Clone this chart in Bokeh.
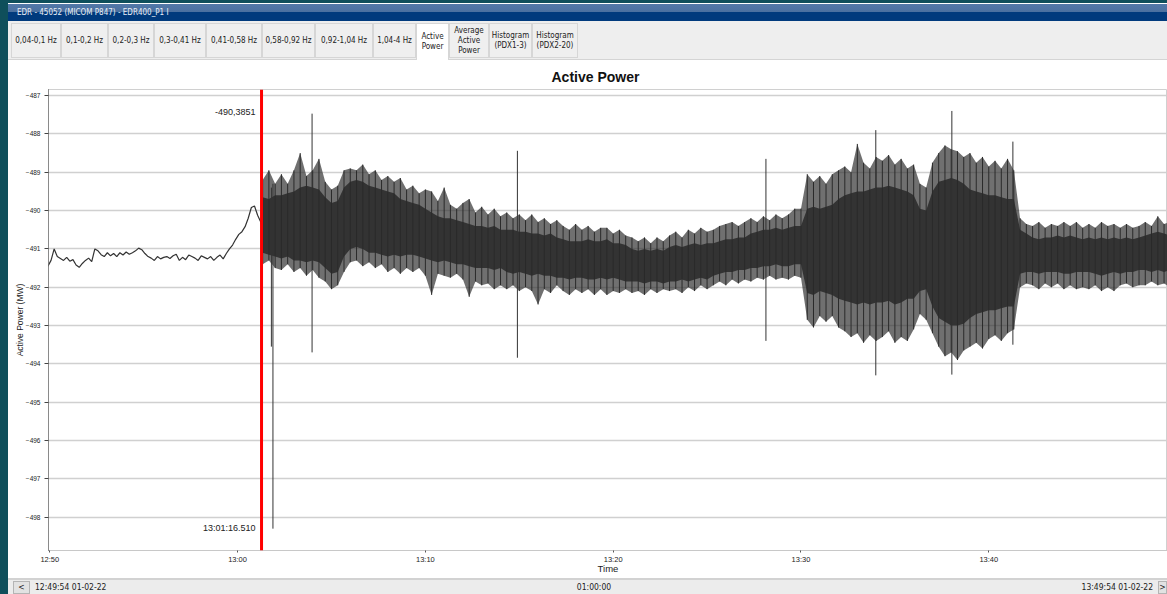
import pandas as pd
from bokeh.plotting import figure
from bokeh.models import (Range1d, FixedTicker, DatetimeTickFormatter, Span, Label,
                          Div, ColumnDataSource)
from bokeh.layouts import column, row
from bokeh.embed import file_html
from bokeh.resources import INLINE

# ---------------- data ----------------
DATE = "2022-02-01"
window_title = "EDR - 45052 (MICOM P847) - EDR400_P1 I"
tab_labels = ["0,04-0,1 Hz", "0,1-0,2 Hz", "0,2-0,3 Hz", "0,3-0,41 Hz", "0,41-0,58 Hz",
              "0,58-0,92 Hz", "0,92-1,04 Hz", "1,04-4 Hz", "Active\nPower",
              "Average\nActive\nPower", "Histogram\n(PDX1-3)", "Histogram\n(PDX2-20)"]
active_tab = "Active\nPower"
chart_title = "Active Power"
x_label = "Time"
y_label = "Active Power (MW)"
x_tick_labels = ["12:50", "13:00", "13:10", "13:20", "13:30", "13:40"]
y_ticks = [-498, -497, -496, -495, -494, -493, -492, -491, -490, -489, -488, -487]
record_start = "12:49:54 01-02-22"
record_end = "13:49:54 01-02-22"
record_span = "01:00:00"

# slow trace before the event, one reading every 10 s
pre_start = "12:49:54"
pre_step = "10s"
pre_power = [
    -491.45, -491.3, -491.0, -491.2, -491.25, -491.3, -491.22, -491.32, -491.28, -491.42,
    -491.48, -491.38, -491.3, -491.24, -491.33, -491.0, -491.05, -491.15, -491.2, -491.1,
    -491.18, -491.12, -491.2, -491.1, -491.16, -491.08, -491.14, -491.1, -491.05, -490.98,
    -491.02, -491.12, -491.2, -491.24, -491.3, -491.2, -491.26, -491.22, -491.2, -491.25,
    -491.18, -491.14, -491.3, -491.22, -491.28, -491.16, -491.2, -491.24, -491.3, -491.18,
    -491.22, -491.26, -491.2, -491.3, -491.22, -491.16, -491.26, -491.12, -491.0, -490.9,
    -490.75, -490.62, -490.55, -490.42, -490.2, -489.92, -489.88, -490.12, -490.3]

# cursor
marker_time = "13:01:16.510"
marker_value = -490.3851

# oscillating part after the event, envelope every 20 s
band_start = "13:01:20"
band_step = "20s"
core_top = [
    -489.65, -489.7, -489.6, -489.6, -489.55, -489.5, -489.4, -489.35, -489.4,
    -489.45, -489.65, -489.8, -489.75, -489.4, -489.25, -489.2, -489.25, -489.35,
    -489.4, -489.45, -489.5, -489.55, -489.7, -489.75, -489.8, -489.85, -489.95,
    -490.05, -490.15, -490.2, -490.2, -490.25, -490.3, -490.35, -490.4, -490.4,
    -490.45, -490.4, -490.5, -490.5, -490.5, -490.55, -490.55, -490.6, -490.6,
    -490.65, -490.6, -490.7, -490.75, -490.8, -490.8, -490.8, -490.75, -490.8,
    -490.8, -490.75, -490.85, -490.85, -490.9, -491.0, -491.05, -491.0, -491.05,
    -491.0, -491.05, -490.95, -490.9, -490.95, -490.9, -490.85, -490.9, -490.85,
    -490.85, -490.8, -490.75, -490.75, -490.7, -490.7, -490.6, -490.55, -490.5,
    -490.5, -490.45, -490.5, -490.45, -490.4, -490.4, -489.95, -489.9, -489.95,
    -489.9, -489.85, -489.7, -489.6, -489.55, -489.5, -489.5, -489.45, -489.4,
    -489.4, -489.35, -489.4, -489.45, -489.5, -489.6, -489.95, -490.0, -489.5,
    -489.25, -489.2, -489.15, -489.2, -489.3, -489.45, -489.5, -489.55, -489.6,
    -489.6, -489.65, -489.7, -489.7, -490.5, -490.6, -490.7, -490.75, -490.7,
    -490.7, -490.65, -490.7, -490.65, -490.7, -490.75, -490.7, -490.75, -490.7,
    -490.75, -490.7, -490.75, -490.7, -490.75, -490.7, -490.65, -490.6, -490.55,
    -490.6, -490.65]
core_bottom = [
    -491.1, -491.15, -491.2, -491.25, -491.2, -491.3, -491.3, -491.35, -491.3,
    -491.35, -491.5, -491.65, -491.6, -491.2, -491.0, -490.95, -491.0, -491.1,
    -491.1, -491.15, -491.2, -491.15, -491.2, -491.15, -491.15, -491.2, -491.25,
    -491.3, -491.35, -491.3, -491.35, -491.4, -491.4, -491.45, -491.5, -491.5,
    -491.5, -491.55, -491.5, -491.6, -491.65, -491.6, -491.65, -491.7, -491.65,
    -491.7, -491.7, -491.75, -491.75, -491.8, -491.75, -491.75, -491.8, -491.8,
    -491.75, -491.8, -491.75, -491.8, -491.85, -491.85, -491.85, -491.9, -491.85,
    -491.85, -491.9, -491.85, -491.85, -491.8, -491.85, -491.8, -491.75, -491.8,
    -491.7, -491.65, -491.6, -491.6, -491.55, -491.55, -491.5, -491.5, -491.45,
    -491.45, -491.4, -491.45, -491.45, -491.4, -491.4, -492.15, -492.2, -492.1,
    -492.15, -492.2, -492.3, -492.35, -492.4, -492.45, -492.4, -492.45, -492.4,
    -492.4, -492.35, -492.45, -492.4, -492.3, -492.3, -492.1, -492.05, -492.5,
    -492.8, -492.9, -493.0, -493.0, -492.95, -492.8, -492.7, -492.65, -492.6,
    -492.6, -492.55, -492.5, -492.5, -491.65, -491.6, -491.6, -491.65, -491.6,
    -491.6, -491.6, -491.65, -491.65, -491.6, -491.6, -491.6, -491.65, -491.7,
    -491.65, -491.6, -491.65, -491.6, -491.6, -491.55, -491.55, -491.6, -491.55,
    -491.6, -491.55]
peak_top = [
    -489.2, -488.95, -489.3, -489.05, -489.3, -488.95, -488.5, -489.1, -488.95,
    -488.65, -489.25, -489.45, -489.35, -488.95, -488.9, -488.95, -488.8, -489.05,
    -488.95, -489.2, -489.1, -489.25, -489.15, -489.45, -489.35, -489.55, -489.45,
    -489.5, -489.75, -489.4, -489.85, -489.95, -489.8, -489.7, -490.05, -489.9,
    -490.1, -489.95, -490.15, -490.05, -490.2, -490.1, -490.25, -490.1, -490.3,
    -490.2, -490.35, -490.25, -490.4, -490.5, -490.35, -490.5, -490.4, -490.55,
    -490.45, -490.45, -490.6, -490.5, -490.65, -490.7, -490.8, -490.7, -490.85,
    -490.7, -490.8, -490.65, -490.55, -490.7, -490.5, -490.6, -490.45, -490.55,
    -490.5, -490.4, -490.35, -490.3, -490.4, -490.3, -490.2, -490.3, -490.15,
    -490.25, -490.1, -490.2, -490.1, -489.95, -489.95, -489.05, -489.25, -489.1,
    -489.3, -489.05, -488.95, -488.85, -489.0, -488.26, -488.75, -488.9, -488.6,
    -488.7, -488.55, -488.8, -488.65, -488.9, -488.8, -489.3, -489.4, -488.75,
    -488.5, -488.3, -488.4, -488.45, -488.6, -488.5, -488.75, -488.6, -488.85,
    -488.7, -488.9, -488.65, -488.95, -490.2, -490.35, -490.4, -490.3, -490.45,
    -490.35, -490.4, -490.3, -490.4, -490.3, -490.45, -490.35, -490.45, -490.3,
    -490.4, -490.35, -490.45, -490.35, -490.45, -490.4, -490.3, -490.4, -490.15,
    -490.35, -490.3]
peak_bottom = [
    -491.4, -491.3, -491.5, -491.55, -491.4, -491.6, -491.5, -491.7, -491.55,
    -491.75, -491.85, -492.05, -491.95, -491.6, -491.35, -491.3, -491.45, -491.35,
    -491.5, -491.4, -491.6, -491.5, -491.65, -491.5, -491.6, -491.5, -491.7,
    -492.2, -491.65, -491.7, -491.75, -491.65, -491.8, -492.25, -491.85, -491.95,
    -491.9, -492.05, -491.95, -492.05, -491.95, -492.1, -492.0, -492.1, -492.45,
    -492.05, -492.15, -491.95, -492.1, -492.2, -492.05, -492.15, -492.05, -492.2,
    -492.05, -492.2, -492.1, -492.15, -492.05, -492.15, -492.1, -492.2, -492.05,
    -492.15, -492.05, -492.1, -492.05, -492.15, -492.0, -492.1, -491.95, -492.05,
    -491.95, -491.85, -491.95, -491.8, -491.9, -491.8, -491.85, -491.75, -491.8,
    -491.7, -491.8, -491.75, -491.8, -491.7, -491.75, -492.85, -493.05, -492.75,
    -492.9, -492.75, -493.05, -493.15, -493.3, -493.2, -493.45, -493.25, -493.4,
    -493.3, -493.15, -493.45, -493.3, -493.4, -493.1, -492.7, -492.85, -493.2,
    -493.55, -493.8, -493.7, -493.9, -493.65, -493.55, -493.45, -493.6, -493.35,
    -493.25, -493.4, -493.2, -493.1, -492.0, -491.9, -491.95, -492.05, -491.9,
    -492.0, -491.9, -492.05, -491.95, -492.05, -492.0, -492.05, -491.95, -492.1,
    -492.0, -492.1, -491.95, -491.9, -492.0, -491.95, -491.95, -491.85, -491.95,
    -491.9, -492.0]

# isolated long spikes
spike_times = ["13:01:48", "13:01:53", "13:03:58", "13:14:54", "13:28:08",
               "13:33:59", "13:38:02", "13:41:17"]
spike_top = [-489.4, -489.3, -487.47, -488.44, -488.65, -487.9, -487.4, -488.2]
spike_bottom = [-493.55, -498.3, -493.7, -493.84, -493.4, -494.3, -494.28, -493.5]

assert len(core_top) == len(core_bottom) == len(peak_top) == len(peak_bottom)


# ---------------- helpers ----------------
def ms(ts):
    return pd.Timestamp(ts).value / 1e6


def at(hms):
    return pd.Timestamp(f"{DATE} {hms}")


pre_t = list(pd.date_range(at(pre_start), periods=len(pre_power), freq=pre_step)) + [at(marker_time)]
pre_src = ColumnDataSource(dict(t=pre_t, y=pre_power + [marker_value]))

band_t = pd.date_range(at(band_start), periods=len(core_top), freq=band_step)
band_src = ColumnDataSource(dict(t=band_t, ct=core_top, cb=core_bottom, pt=peak_top, pb=peak_bottom))

spike_src = ColumnDataSource(dict(t=[at(s) for s in spike_times], top=spike_top, bot=spike_bottom))

FONT = "Liberation Sans"
INK = "#333333"
TEAL = "#0f4f5b"

# ---------------- figure ----------------
p = figure(width=1159, height=518, x_axis_type="datetime",
           x_range=Range1d(ms(at("12:49:55.9")), ms(at("13:49:31"))),
           y_range=Range1d(-498.87, -486.84),
           output_backend="svg", toolbar_location=None,
           min_border_left=40, min_border_right=0, min_border_top=29, min_border_bottom=28,
           background_fill_color="white", border_fill_color="white",
           outline_line_color="#d0d0d0", title=chart_title, margin=0)

p.title.text_font = FONT
p.title.text_font_size = "14px"
p.title.text_font_style = "bold"
p.title.text_color = "#111111"
p.title.align = "left"
p.title.offset = 503
p.title.standoff = 10

# axes
p.xaxis.ticker = FixedTicker(ticks=[ms(at(t)) for t in x_tick_labels])
p.xaxis.formatter = DatetimeTickFormatter(minutes="%H:%M", hourmin="%H:%M", hours="%H:%M",
                                          minsec="%H:%M", seconds="%H:%M")
p.xaxis.axis_label = x_label
p.xaxis.axis_label_text_font = FONT
p.xaxis.axis_label_text_font_size = "9.5px"
p.xaxis.axis_label_text_font_style = "normal"
p.xaxis.axis_label_text_color = "#222222"
p.xaxis.axis_label_standoff = -4
p.xaxis.axis_line_color = "#c8c8c8"
p.xaxis.major_tick_in = 0
p.xaxis.major_tick_out = 2
p.xaxis.major_tick_line_color = "#555555"
p.xaxis.minor_tick_line_color = None
p.xaxis.major_label_standoff = 2
p.xaxis.major_label_text_font = FONT
p.xaxis.major_label_text_font_size = "7.5px"
p.xaxis.major_label_text_color = "#222222"

p.yaxis.ticker = FixedTicker(ticks=y_ticks)
p.yaxis.axis_label = y_label
p.yaxis.axis_label_text_font = FONT
p.yaxis.axis_label_text_font_size = "8.5px"
p.yaxis.axis_label_text_font_style = "normal"
p.yaxis.axis_label_text_color = "#222222"
p.yaxis.axis_label_standoff = -2
p.yaxis.axis_line_color = "#444444"
p.yaxis.axis_line_dash = "1 1"
p.yaxis.major_tick_in = 0
p.yaxis.major_tick_out = 4
p.yaxis.major_tick_line_color = "#444444"
p.yaxis.minor_tick_line_color = None
p.yaxis.major_label_standoff = 4
p.yaxis.major_label_text_font = FONT
p.yaxis.major_label_text_font_size = "6.5px"
p.yaxis.major_label_text_color = "#222222"

p.xgrid.grid_line_color = None
p.ygrid.grid_line_color = "#d0d0d0"
p.ygrid.grid_line_width = 1.5

# signal: fuzzy fringe, dense core, individual excursions
p.varea(x="t", y1="pb", y2="pt", source=band_src, fill_color=INK, fill_alpha=0.7)
p.varea(x="t", y1="cb", y2="ct", source=band_src, fill_color=INK)
p.segment(x0="t", y0="pb", x1="t", y1="pt", source=band_src, line_color="#2a2a2a", line_width=1)
p.line(x="t", y="y", source=pre_src, line_color=INK, line_width=1.2)
p.segment(x0="t", y0="bot", x1="t", y1="top", source=spike_src, line_color=INK, line_width=1)

# cursor
p.add_layout(Span(location=ms(at(marker_time)), dimension="height", line_color="#ff0000", line_width=3))
p.add_layout(Label(x=ms(at(marker_time)), y=-487.44, x_offset=-6,
                   text=f"{marker_value:.4f}".replace(".", ","), text_align="right",
                   text_baseline="middle", text_font=FONT, text_font_size="9px", text_color="#222222"))
p.add_layout(Label(x=ms(at(marker_time)), y=-498.27, x_offset=-6,
                   text=marker_time, text_align="right",
                   text_baseline="middle", text_font=FONT, text_font_size="9px", text_color="#222222"))

# ---------------- window chrome ----------------
UI = "'DejaVu Sans Condensed','Liberation Sans Narrow','Liberation Sans',sans-serif"

title_html = (
    f'<div style="width:1159px;height:21px;box-sizing:border-box;padding-left:9px;padding-top:8px;'
    f'background:linear-gradient({TEAL} 0px,{TEAL} 3px,#ffffff 3px,#ffffff 4px,#5278a8 4px,'
    f'#4a70a0 12px,#003a7d 12px,#003a7d 21px);'
    f'color:#e8eef6;font-family:{UI};font-size:8px;line-height:10px;white-space:nowrap;">'
    f'{window_title}</div>')

tab_widths = [50, 47, 46, 52, 56, 53, 58, 43, 33, 40, 43, 46]
tabs = []
left = 3
for lbl, w in zip(tab_labels, tab_widths):
    sel = lbl == active_tab
    bg = "#ffffff" if sel else "#efefef"
    h = 37 if sel else 35
    bb = "none" if sel else "1px solid #d6d6d6"
    tabs.append(
        f'<div style="position:absolute;left:{left}px;top:2px;width:{w}px;height:{h}px;'
        f'box-sizing:border-box;background:{bg};border:1px solid #d6d6d6;border-bottom:{bb};'
        f'display:flex;align-items:center;justify-content:center;text-align:center;'
        f'font-family:{UI};font-size:8px;line-height:10px;color:#222;white-space:nowrap;">'
        f'{lbl.replace(chr(10), "<br>")}</div>')
    left += w
tabs_html = (
    '<div style="position:relative;width:1159px;height:39px;box-sizing:border-box;'
    'background:#eeeeee;border-bottom:1px solid #d4d4d4;">' + "".join(tabs) + '</div>')

footer_html = (
    f'<div style="position:relative;width:1159px;height:16px;box-sizing:border-box;'
    f'background:#ececec;border-top:2px solid #d2d2d2;font-family:{UI};font-size:8.5px;'
    f'color:#222;line-height:13px;white-space:nowrap;">'
    f'<div style="position:absolute;left:5px;top:1px;width:17px;height:13px;box-sizing:border-box;'
    f'border:1px solid #b4b4b4;background:#e2e2e2;text-align:center;line-height:11px;">&lt;</div>'
    f'<div style="position:absolute;left:27px;top:1px;">{record_start}</div>'
    f'<div style="position:absolute;left:536px;top:1px;width:100px;text-align:center;">{record_span}</div>'
    f'<div style="position:absolute;right:14px;top:1px;">{record_end}</div>'
    f'<div style="position:absolute;right:0px;top:1px;width:9px;height:13px;box-sizing:border-box;'
    f'border:1px solid #b4b4b4;background:#e2e2e2;text-align:center;line-height:11px;">&gt;</div>'
    f'</div>')

d_title = Div(text=title_html, width=1159, height=21, margin=0, styles={"overflow": "hidden"})
d_tabs = Div(text=tabs_html, width=1159, height=39, margin=0, styles={"overflow": "hidden"})
d_foot = Div(text=footer_html, width=1159, height=16, margin=0, styles={"overflow": "hidden"})
d_side = Div(text="", width=8, height=594, margin=0, styles={"background-color": TEAL})

layout = row(d_side, column(d_title, d_tabs, p, d_foot, spacing=0, margin=0), spacing=0, margin=0)

open("out.html", "w").write(file_html(layout, INLINE))
